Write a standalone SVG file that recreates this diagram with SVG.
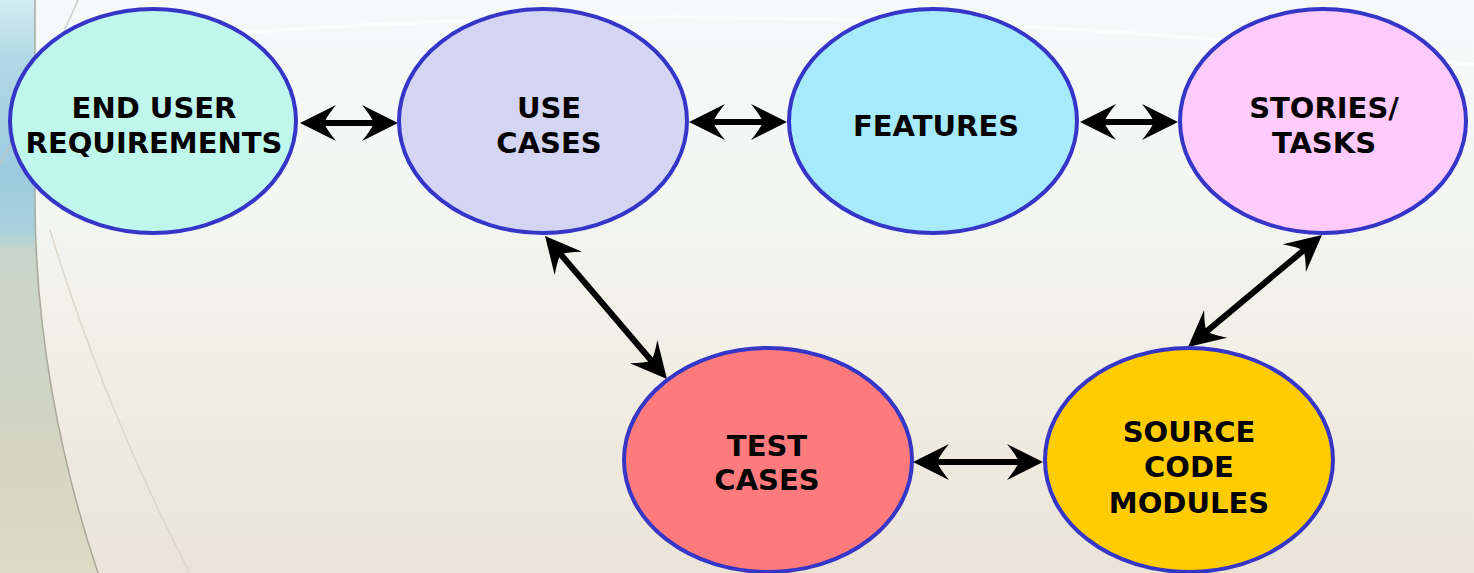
<svg xmlns="http://www.w3.org/2000/svg" width="1474" height="573" viewBox="0 0 1474 573">
  <defs>
    <linearGradient id="bg" x1="0" y1="0" x2="0" y2="1">
      <stop offset="0" stop-color="#f5f9fa"/>
      <stop offset="0.35" stop-color="#f3f6f2"/>
      <stop offset="0.7" stop-color="#f0ece2"/>
      <stop offset="1" stop-color="#ebe3d7"/>
    </linearGradient>
    <linearGradient id="strip" x1="0" y1="0" x2="0" y2="1">
      <stop offset="0" stop-color="#d2ecf2"/>
      <stop offset="0.1" stop-color="#b2d9e7"/>
      <stop offset="0.3" stop-color="#9ccadf"/>
      <stop offset="0.4" stop-color="#a9d0de"/>
      <stop offset="0.44" stop-color="#c9d5ca"/>
      <stop offset="0.7" stop-color="#d0d4c2"/>
      <stop offset="1" stop-color="#dedac4"/>
    </linearGradient>
    <marker id="ah" viewBox="-38 -19 38 38" refX="-22" refY="0" markerWidth="38" markerHeight="38" markerUnits="userSpaceOnUse" orient="auto-start-reverse">
      <path d="M0,0 L-36,-18 Q-27,-7 -24,0 Q-27,7 -36,18 Z" fill="#000"/>
    </marker>
  </defs>
  <style>
    .node ellipse { stroke: #3535c8; stroke-width: 4; }
    .node text { font-family: "DejaVu Sans", Verdana, sans-serif; font-weight: bold; font-size: 29px; fill: #000; text-anchor: middle; }
    .conn line { stroke: #000; stroke-width: 6; marker-start: url(#ah); marker-end: url(#ah); }
  </style>

  <g id="background">
    <rect x="0" y="0" width="1474" height="573" fill="url(#bg)"/>
    <path d="M0,55 Q700,-25 1474,65" fill="none" stroke="#ffffff" stroke-width="4" opacity="0.7"/>
    <path d="M0,0 H35 V200 C35,330 60,460 98,573 H0 Z" fill="url(#strip)"/>
    <path d="M35,0 V200 C35,330 60,460 98,573" fill="none" stroke="#aaa89a" stroke-width="1.5"/>
    <path d="M78,0 Q45,75 0,165" fill="none" stroke="#c4c6c0" stroke-width="1.5" opacity="0.8"/>
    <path d="M50,230 Q105,410 190,573" fill="none" stroke="#dcd6ca" stroke-width="1.5"/>
  </g>

  <g id="connectors" class="conn">
    <line x1="322" y1="123" x2="376" y2="123"/>
    <line x1="711" y1="122" x2="765" y2="122"/>
    <line x1="1102" y1="122" x2="1156" y2="122"/>
    <line x1="559.3" y1="252.7" x2="652.7" y2="362.3"/>
    <line x1="1305.1" y1="249.1" x2="1204.9" y2="332.9"/>
    <line x1="935" y1="462" x2="1021" y2="462"/>
  </g>

  <g id="end-user-requirements" class="node">
    <ellipse cx="153" cy="121" rx="143" ry="112" fill="#bff7ec"/>
    <text x="154" y="118">END USER</text>
    <text x="154" y="153">REQUIREMENTS</text>
  </g>
  <g id="use-cases" class="node">
    <ellipse cx="543" cy="121" rx="144" ry="112" fill="#d4d4f3"/>
    <text x="549" y="118">USE</text>
    <text x="549" y="153">CASES</text>
  </g>
  <g id="features" class="node">
    <ellipse cx="933" cy="121" rx="144" ry="112" fill="#a6eafb"/>
    <text x="936" y="136">FEATURES</text>
  </g>
  <g id="stories-tasks" class="node">
    <ellipse cx="1323" cy="121" rx="143" ry="112" fill="#ffcbfd"/>
    <text x="1324" y="118">STORIES/</text>
    <text x="1324" y="153">TASKS</text>
  </g>
  <g id="test-cases" class="node">
    <ellipse cx="768" cy="460" rx="144" ry="112" fill="#ff7a7c"/>
    <text x="767" y="456">TEST</text>
    <text x="767" y="490">CASES</text>
  </g>
  <g id="source-code-modules" class="node">
    <ellipse cx="1189" cy="460" rx="144" ry="112" fill="#ffcc00"/>
    <text x="1189" y="442">SOURCE</text>
    <text x="1189" y="477">CODE</text>
    <text x="1189" y="513">MODULES</text>
  </g>
</svg>
